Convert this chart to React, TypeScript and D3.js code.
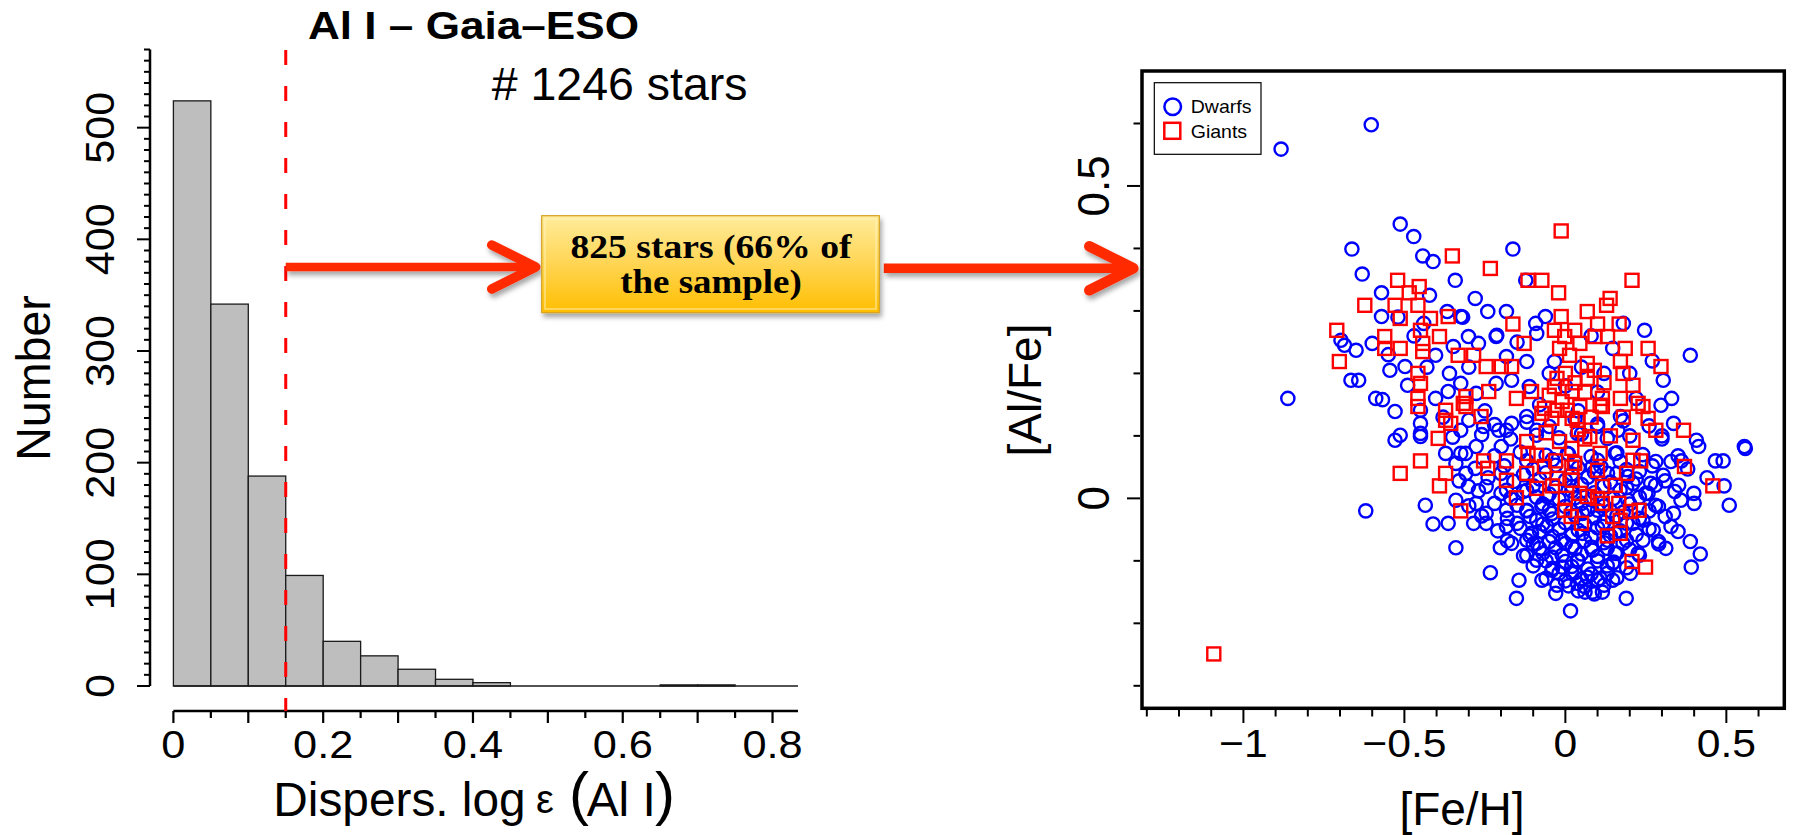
import React from "react"
import * as d3 from "d3"

// histogram: counts per 0.05 bin of the dispersion
const binEdges = d3.range(0, 0.851, 0.05).map(v => +v.toFixed(2))
const binCounts = [524, 342, 188, 99, 40, 27, 15, 6, 3, 0, 0, 0, 0, 1, 1, 0, 0]
const histXTicks = [0, 0.2, 0.4, 0.6, 0.8]
const histXLabels = ["0", "0.2", "0.4", "0.6", "0.8"]
const histYTicks = [0, 100, 200, 300, 400, 500]
const cutValue = 0.15

// scatter: [Fe/H], [Al/Fe]
const dwarfs: [number, number][] = [
  [-0.883, 0.559], [-0.603, 0.598], [-0.513, 0.439], [-0.471, 0.419], [-0.663, 0.399], [-0.443, 0.388],
  [-0.411, 0.379], [-0.163, 0.399], [-0.631, 0.359], [-0.342, 0.349], [-0.123, 0.349], [-0.571, 0.329],
  [-0.422, 0.325], [-0.241, 0.299], [-0.183, 0.299], [-0.367, 0.299], [-0.325, 0.291], [-0.571, 0.291],
  [-0.062, 0.291], [-0.092, 0.28], [0.246, 0.269], [0.388, 0.229], [-0.697, 0.253], [-0.686, 0.245],
  [-0.65, 0.237], [-0.6, 0.248], [-0.545, 0.205], [-0.498, 0.211], [-0.403, 0.229], [-0.348, 0.243],
  [-0.301, 0.259], [-0.27, 0.248], [-0.215, 0.259], [-0.183, 0.227], [-0.12, 0.219], [-0.034, 0.219],
  [0.147, 0.24], [-0.666, 0.189], [-0.642, 0.189], [-0.862, 0.16], [-0.589, 0.16], [-0.568, 0.158],
  [-0.529, 0.139], [-0.49, 0.181], [-0.45, 0.12], [-0.403, 0.16], [-0.364, 0.171], [-0.325, 0.184],
  [-0.277, 0.168], [-0.215, 0.184], [-0.167, 0.189], [-0.112, 0.179], [0.304, 0.189], [0.297, 0.149],
  [0.171, 0.131], [0.336, 0.12], [0.407, 0.093], [0.414, 0.083], [0.556, 0.083], [-0.529, 0.093],
  [-0.513, 0.101], [-0.45, 0.099], [-0.254, 0.115], [-0.207, 0.109], [-0.167, 0.12], [-0.12, 0.131],
  [-0.319, 0.29], [-0.213, 0.261], [-0.089, 0.264],
  [-0.05, 0.2], [0.0, 0.18], [0.05, 0.21], [0.1, 0.17], [0.2, 0.2], [0.22, 0.16], [-0.08, 0.15],
  [0.04, 0.14], [0.12, 0.2], [-0.3, 0.21], [-0.25, 0.14], [-0.38, 0.13], [-0.43, 0.21], [-0.36, 0.2],
  [-0.55, 0.23], [-0.47, 0.26], [-0.52, 0.29], [-0.44, 0.28], [-0.28, 0.32], [0.08, 0.26], [0.18, 0.28],
  [-0.15, 0.25], [0.27, 0.22], [0.33, 0.16], [0.3, 0.1], [0.36, 0.06],
  [-0.62, -0.02], [-0.435, -0.011], [-0.411, -0.041], [-0.364, -0.04], [-0.34, -0.079], [-0.233, -0.119],
  [-0.202, -0.079], [-0.152, -0.16], [-0.144, -0.131], [-0.12, -0.091], [-0.073, -0.131], [-0.026, -0.139],
  [0.016, -0.18], [0.037, -0.136], [0.084, -0.15], [0.115, -0.15], [0.108, -0.128], [0.189, -0.16],
  [0.202, -0.12], [0.289, -0.069], [0.312, -0.08], [0.388, -0.069], [0.391, -0.11], [0.419, -0.089],
  [0.509, -0.011], [0.493, 0.02], [0.559, 0.08], [0.466, 0.06], [0.49, 0.06], [0.328, 0.059],
  [0.281, 0.059], [0.304, 0.037], [0.352, 0.021], [0.399, 0.008], [0.359, -0.003], [0.336, -0.024],
  [0.289, -0.013], [0.328, -0.045], [0.273, -0.051], [0.241, -0.067], [0.226, -0.088], [0.155, -0.088],
  [0.131, -0.067], [0.084, -0.083], [0.037, -0.099], [-0.01, -0.11], [-0.042, -0.094], [-0.089, -0.072],
  [-0.105, -0.056], [-0.057, -0.045], [-0.01, -0.067], [0.053, -0.056], [0.115, -0.045], [0.21, -0.04],
  [-0.183, -0.045], [-0.246, -0.04], [-0.285, -0.04], [-0.246, -0.024], [-0.183, -0.019], [-0.12, -0.019],
  [-0.073, -0.013], [-0.089, -0.035], [-0.042, -0.024], [0.053, -0.024], [0.1, -0.019], [0.194, -0.003],
  [0.257, 0.008], [0.265, 0.024], [0.21, 0.024], [0.131, 0.04], [0.084, 0.051], [0.021, 0.019],
  [-0.057, 0.003], [-0.12, 0.013], [-0.183, 0.013], [-0.246, 0.019], [-0.301, 0.019], [-0.277, -0.008],
  [-0.34, -0.003], [-0.309, 0.04], [-0.325, 0.072], [-0.34, 0.056], [-0.277, 0.083], [-0.199, 0.083],
  [-0.183, 0.109], [-0.089, 0.109], [0.006, 0.072], [0.037, 0.104], [0.1, 0.115], [0.163, 0.109],
  [0.155, 0.072], [0.194, 0.035], [-0.45, 0.104], [-0.372, 0.072], [-0.45, 0.141], [-0.325, 0.109],
  [0.155, -0.056], [-0.042, -0.115], [0.021, -0.12], [0.068, -0.126], [0.147, -0.104], [-0.089, -0.099],
  [-0.12, -0.067], [-0.167, -0.072], [0.147, -0.131], [0.061, -0.15], [0.021, -0.077], [0.179, -0.072],
  [0.241, -0.035],
  [-0.3, 0.125], [-0.22, 0.118], [-0.12, 0.122], [-0.05, 0.115], [0.03, 0.127], [0.1, 0.119], [0.18, 0.124], [0.26, 0.116],
  [-0.35, 0.098], [-0.26, 0.102], [-0.17, 0.095], [-0.09, 0.101], [-0.02, 0.097], [0.05, 0.103], [0.13, 0.096], [0.2, 0.1], [0.3, 0.095],
  [-0.31, 0.072], [-0.22, 0.068], [-0.14, 0.074], [-0.06, 0.069], [0.01, 0.071], [0.08, 0.067], [0.16, 0.073], [0.24, 0.07], [0.35, 0.068],
  [-0.28, 0.048], [-0.19, 0.052], [-0.1, 0.047], [-0.03, 0.053], [0.04, 0.049], [0.11, 0.051], [0.19, 0.046], [0.27, 0.052], [0.38, 0.047],
  [-0.33, 0.028], [-0.24, 0.033], [-0.16, 0.027], [-0.08, 0.031], [0.0, 0.029], [0.07, 0.034], [0.14, 0.026], [0.22, 0.031], [0.31, 0.028], [0.44, 0.033],
  [-0.27, 0.012], [-0.2, 0.008], [-0.13, 0.011], [-0.05, 0.007], [0.02, 0.012], [0.09, 0.009], [0.17, 0.013], [0.25, 0.008], [0.34, 0.011],
  [-0.3, -0.012], [-0.22, -0.008], [-0.15, -0.011], [-0.07, -0.009], [0.0, -0.013], [0.05, -0.008], [0.12, -0.012], [0.2, -0.009], [0.28, -0.011], [0.4, -0.008],
  [-0.26, -0.028], [-0.18, -0.032], [-0.11, -0.029], [-0.04, -0.033], [0.03, -0.027], [0.09, -0.031], [0.16, -0.028], [0.23, -0.032], [0.31, -0.029],
  [-0.21, -0.052], [-0.14, -0.048], [-0.08, -0.053], [-0.02, -0.049], [0.04, -0.051], [0.1, -0.047], [0.17, -0.052], [0.26, -0.049], [0.35, -0.053],
  [-0.18, -0.068], [-0.1, -0.073], [-0.05, -0.069], [0.0, -0.072], [0.06, -0.068], [0.12, -0.071], [0.19, -0.067], [0.29, -0.073],
  [-0.13, -0.092], [-0.07, -0.088], [-0.01, -0.091], [0.05, -0.089], [0.1, -0.093], [0.16, -0.088], [0.23, -0.091],
  [-0.1, -0.108], [-0.04, -0.112], [0.02, -0.109], [0.07, -0.113], [0.13, -0.108], [0.19, -0.111],
  [-0.06, -0.128], [0.0, -0.132], [0.05, -0.129], [0.1, -0.131], [0.16, -0.127],
  [-0.03, -0.152], [0.04, -0.148], [0.09, -0.153],
  [-0.12, 0.06], [-0.04, 0.062], [0.03, 0.058], [0.1, 0.061], [0.17, 0.059],
  [-0.2, 0.04], [-0.13, 0.038], [-0.06, 0.041], [0.02, 0.039], [0.09, 0.042], [0.16, 0.04], [0.23, 0.043],
  [-0.1, 0.02], [-0.03, 0.018], [0.05, 0.022], [0.12, 0.02], [0.19, 0.017], [0.28, 0.021],
  [-0.17, 0.0], [-0.09, 0.002], [-0.02, -0.001], [0.03, 0.001], [0.08, -0.002], [0.15, 0.0], [0.23, 0.002],
  [-0.12, -0.02], [-0.05, -0.019], [0.02, -0.021], [0.07, -0.018], [0.14, -0.02], [0.18, -0.022], [0.26, -0.02],
  [-0.15, -0.04], [-0.07, -0.041], [0.0, -0.039], [0.06, -0.042], [0.12, -0.038], [0.19, -0.04],
  [-0.11, -0.06], [-0.04, -0.061], [0.02, -0.059], [0.08, -0.062], [0.14, -0.06], [0.22, -0.058],
  [-0.08, -0.08], [-0.03, -0.079], [0.03, -0.081], [0.08, -0.078], [0.13, -0.08], [0.2, -0.082],
  [-0.06, -0.1], [0.0, -0.101], [0.04, -0.099], [0.1, -0.1], [0.15, -0.102],
  [-0.02, -0.12], [0.03, -0.119], [0.08, -0.121], [0.13, -0.12],
  [0.01, -0.14], [0.06, -0.141], [0.12, -0.139],
]

const giants: [number, number][] = [
  [-0.013, 0.428], [-0.351, 0.388], [-0.233, 0.368], [-0.116, 0.349], [-0.073, 0.349], [0.207, 0.349],
  [-0.521, 0.349], [-0.454, 0.339], [-0.021, 0.329], [-0.485, 0.329], [-0.623, 0.309], [-0.529, 0.309],
  [-0.458, 0.309], [0.139, 0.32], [0.128, 0.309], [0.068, 0.299], [-0.513, 0.288], [-0.419, 0.288],
  [-0.364, 0.291], [-0.013, 0.291], [-0.163, 0.279], [0.1, 0.279], [0.167, 0.279], [-0.71, 0.269],
  [-0.561, 0.259], [-0.45, 0.269], [-0.034, 0.269], [0.029, 0.269], [-0.391, 0.259], [-0.002, 0.259],
  [0.092, 0.259], [0.131, 0.259], [-0.561, 0.24], [-0.513, 0.24], [-0.443, 0.248], [-0.443, 0.235],
  [-0.128, 0.248], [-0.018, 0.24], [0.045, 0.248], [0.186, 0.24], [0.257, 0.24], [-0.702, 0.219],
  [-0.333, 0.229], [-0.285, 0.229], [0.013, 0.229], [0.171, 0.219], [-0.246, 0.211], [-0.199, 0.211],
  [-0.167, 0.211], [0.297, 0.211], [0.068, 0.216], [-0.458, 0.2], [0.179, 0.2], [-0.026, 0.192],
  [0.068, 0.192], [-0.45, 0.184], [-0.034, 0.179], [0.21, 0.181], [-0.238, 0.171], [-0.105, 0.171],
  [0.021, 0.171], [-0.458, 0.16], [-0.309, 0.163], [-0.152, 0.16], [0.115, 0.16], [0.171, 0.16],
  [0.226, 0.152], [0.241, 0.147], [-0.458, 0.147], [-0.372, 0.141], [-0.317, 0.152], [-0.065, 0.144],
  [-0.026, 0.141], [0.006, 0.141], [0.045, 0.147], [0.115, 0.147], [-0.262, 0.131], [-0.042, 0.128],
  [0.021, 0.128], [-0.356, 0.12], [0.257, 0.128], [0.281, 0.109], [0.367, 0.109], [-0.395, 0.096],
  [-0.12, 0.091], [-0.018, 0.091], [0.076, 0.099], [0.21, 0.093],
  [-1.092, -0.249], [-0.513, 0.04], [-0.45, 0.06], [-0.391, 0.02], [-0.325, -0.02], [-0.372, 0.04],
  [-0.372, 0.125], [-0.254, 0.06], [-0.241, 0.048], [-0.183, 0.06], [-0.183, 0.029], [-0.152, 0.001],
  [-0.116, 0.072], [-0.089, 0.069], [-0.089, 0.016], [-0.12, 0.04], [-0.065, 0.051], [-0.026, 0.032],
  [-0.002, -0.019], [0.018, -0.029], [0.021, 0.029], [0.029, 0.056], [0.045, 0.008], [0.068, 0.003],
  [0.108, 0.072], [0.115, 0.019], [0.115, -0.008], [0.155, 0.021], [0.147, -0.029], [0.171, -0.056],
  [0.166, -0.008], [0.202, -0.021], [0.229, -0.019], [0.21, 0.061], [0.234, 0.06], [0.207, -0.101],
  [0.249, -0.11], [0.37, 0.051], [0.458, 0.02], [-0.309, 0.147], [-0.073, 0.136], [0.037, 0.125],
  [0.108, 0.149],
  [0.0, 0.2], [0.03, 0.185], [0.06, 0.17], [-0.05, 0.165], [0.09, 0.205], [0.12, 0.185], [-0.01, 0.155],
  [0.04, 0.11], [0.08, 0.13], [-0.06, 0.105], [0.02, 0.08], [0.06, 0.095], [-0.03, 0.06], [0.1, 0.045],
  [0.14, 0.1], [0.18, 0.13], [0.0, 0.0], [0.05, -0.04], [0.13, -0.06], [0.17, -0.035], [0.1, 0.0],
  [0.19, 0.04], [-0.04, 0.02], [0.02, 0.05],
]

const xFeTicks = [-1, -0.5, 0, 0.5]
const xFeLabels = ["\u22121", "\u22120.5", "0", "0.5"]
const yAlTicks = [0, 0.5]
const yAlLabels = ["0", "0.5"]

const SANS = "'Liberation Sans', Arial, Helvetica, sans-serif"
const SERIF = "'Liberation Serif', 'Times New Roman', serif"
const ARROW = "#ff2a00"

const Label = ({x, y, size, sx = 1, rot = 0, anchor = "middle", weight = "normal", family = SANS, children}: any) => (
  <text transform={`translate(${x},${y}) rotate(${rot}) scale(${sx},1)`} fontSize={size}
    textAnchor={anchor} fontWeight={weight} fontFamily={family} fill="#000">{children}</text>
)

const Arrow = ({x1, x2, y, w}: any) => (
  <g filter="url(#shadow)" stroke={ARROW} fill="none" strokeLinecap="round" strokeLinejoin="round">
    <line x1={x1} x2={x2 - 3} y1={y} y2={y} strokeWidth={w} strokeLinecap="butt" />
    <polyline points={`${x2 - 44},${y - 22} ${x2},${y} ${x2 - 44},${y + 22}`} strokeWidth={w + 1} />
  </g>
)

export default function App() {
  // left panel scales
  const xL = d3.scaleLinear().domain([0, 0.834]).range([173.4, 798])
  const yL = d3.scaleLinear().domain([0, 570]).range([686, 49.5])
  // right panel scales
  const xR = d3.scaleLinear().domain([-1.315, 0.68]).range([1142, 1784.3])
  const yR = d3.scaleLinear().domain([-0.336, 0.684]).range([708.3, 71])

  const bins = binCounts.map((c, i) => ({x0: binEdges[i], x1: binEdges[i + 1], c}))
  const yMinor = d3.range(0, 571, 10)
  const xMinor = d3.range(0, 16.5).map(i => +(i * 0.05).toFixed(2))
  const rxMinor = d3.range(-13, 7).map(i => i / 10)
  const ryMinor = d3.range(-3, 7).map(i => i / 10)
  const axisY = 711
  const isHalf = (v: number) => Math.abs(v * 2 - Math.round(v * 2)) < 1e-6

  return (
    <svg width={1794} height={835} style={{position: "absolute", left: 0, top: 0, background: "#fff"}}>
      <defs>
        <filter id="shadow" x="-10%" y="-40%" width="120%" height="200%">
          <feDropShadow dx="2" dy="4" stdDeviation="2.5" floodColor="#000" floodOpacity="0.35" />
        </filter>
        <linearGradient id="gold" x1="0" y1="0" x2="0" y2="1">
          <stop offset="0" stopColor="#ffec9c" />
          <stop offset="0.45" stopColor="#ffd75a" />
          <stop offset="1" stopColor="#ffbe00" />
        </linearGradient>
        <clipPath id="histClip">
          <rect x={xL(0) - 2} y={0} width={xL(0.834) - xL(0) + 2} height={700} />
        </clipPath>
      </defs>

      {/* histogram */}
      <g clipPath="url(#histClip)">
        {bins.map((b, i) => (
          <rect key={i} x={xL(b.x0)} y={yL(b.c)} width={xL(b.x1) - xL(b.x0)} height={yL(0) - yL(b.c)}
            fill="#bebebe" stroke="#1a1a1a" strokeWidth={1.3} />
        ))}
        <line x1={xL(0)} x2={xL(0.85)} y1={yL(0)} y2={yL(0)} stroke="#1a1a1a" strokeWidth={1.3} />
      </g>

      {/* left y axis */}
      <line x1={150} x2={150} y1={yL(0)} y2={yL(570)} stroke="#000" strokeWidth={2.5} />
      {yMinor.map(v => (
        <line key={v} x1={150} x2={v % 100 === 0 ? 137 : 144} y1={yL(v)} y2={yL(v)} stroke="#000" strokeWidth={2} />
      ))}
      {histYTicks.map(v => (
        <Label key={v} x={114} y={yL(v)} size={40} sx={1.08} rot={-90}>{v}</Label>
      ))}
      <Label x={50} y={378} size={48} rot={-90} sx={0.97}>Number</Label>

      {/* left x axis */}
      <line x1={xL(0)} x2={xL(0.834)} y1={axisY} y2={axisY} stroke="#000" strokeWidth={2.7} />
      {xMinor.map((v, i) => (
        <line key={v} x1={xL(v)} x2={xL(v)} y1={axisY} y2={axisY + (i % 2 === 0 ? 12 : 7)} stroke="#000" strokeWidth={2.2} />
      ))}
      {histXTicks.map((v, i) => (
        <Label key={v} x={xL(v)} y={758.3} size={38.7} sx={1.12}>{histXLabels[i]}</Label>
      ))}
      <Label x={273.3} y={816} size={47.8} anchor="start">Dispers. log</Label>
      <Label x={536} y={813} size={40} anchor="start">ε</Label>
      <Label x={569} y={814} size={60} anchor="start">(</Label>
      <Label x={586.7} y={816} size={47.8} anchor="start">Al I</Label>
      <Label x={655} y={814} size={60} anchor="start">)</Label>

      {/* cut line */}
      <line x1={xL(cutValue)} x2={xL(cutValue)} y1={50} y2={axisY} stroke="#ff0000" strokeWidth={3}
        strokeDasharray="15 21" />

      <Label x={308} y={39} size={38.7} sx={1.14} anchor="start" weight="bold">Al I – Gaia–ESO</Label>
      <Label x={491.7} y={100} size={46.5} anchor="start"># 1246 stars</Label>

      {/* arrows and box */}
      <Arrow x1={xL(cutValue)} x2={535.7} y={267} w={8.5} />
      <Arrow x1={883.8} x2={1133.3} y={268.3} w={9.5} />
      <g filter="url(#shadow)">
        <rect x={541.7} y={215.7} width={337.6} height={97} fill="url(#gold)" stroke="#d4a21c" strokeWidth={1.2} />
      </g>
      <rect x={545} y={219} width={331} height={90} fill="none" stroke="#fff3c4" strokeOpacity={0.6} strokeWidth={1.5} />
      <Label x={711} y={258.3} size={33.6} sx={1.12} weight="bold" family={SERIF}>825 stars (66% of</Label>
      <Label x={711} y={293.3} size={33.6} sx={1.1} weight="bold" family={SERIF}>the sample)</Label>

      {/* scatter */}
      <g fill="none" stroke="#0000ff" strokeWidth={2.4}>
        {dwarfs.map((d, i) => <circle key={i} cx={xR(d[0])} cy={yR(d[1])} r={6.6} />)}
      </g>
      <g fill="none" stroke="#ff0000" strokeWidth={2.4}>
        {giants.map((d, i) => <rect key={i} x={xR(d[0]) - 6.5} y={yR(d[1]) - 6.5} width={13} height={13} />)}
      </g>

      <rect x={1142} y={71} width={1784.3 - 1142} height={708.3 - 71} fill="none" stroke="#000" strokeWidth={3.5} />
      {rxMinor.map(v => (
        <line key={v} x1={xR(v)} x2={xR(v)} y1={710} y2={isHalf(v) ? 723 : 716.5} stroke="#000" strokeWidth={2} />
      ))}
      {ryMinor.map(v => (
        <line key={v} y1={yR(v)} y2={yR(v)} x1={1140} x2={isHalf(v) ? 1127 : 1133.5} stroke="#000" strokeWidth={2} />
      ))}
      {xFeTicks.map((v, i) => (
        <Label key={v} x={xR(v)} y={756.7} size={39.5} sx={1.08}>{xFeLabels[i]}</Label>
      ))}
      {yAlTicks.map((v, i) => (
        <Label key={v} x={1109.3} y={yR(v)} size={44} rot={-90}>{yAlLabels[i]}</Label>
      ))}
      <Label x={1462} y={825} size={46}>[Fe/H]</Label>
      <Label x={1041} y={390} size={46} rot={-90}>[Al/Fe]</Label>

      {/* legend */}
      <rect x={1154.3} y={82.7} width={106.7} height={71.6} fill="#fff" stroke="#000" strokeWidth={1.2} />
      <circle cx={1172.7} cy={106.7} r={8.3} fill="none" stroke="#0000ff" strokeWidth={2.5} />
      <rect x={1164.3} y={122.8} width={16} height={16} fill="none" stroke="#ff0000" strokeWidth={2.5} />
      <Label x={1190.7} y={113.3} size={18.6} sx={1.05} anchor="start">Dwarfs</Label>
      <Label x={1190.7} y={137.7} size={18.6} sx={1.05} anchor="start">Giants</Label>
    </svg>
  )
}
